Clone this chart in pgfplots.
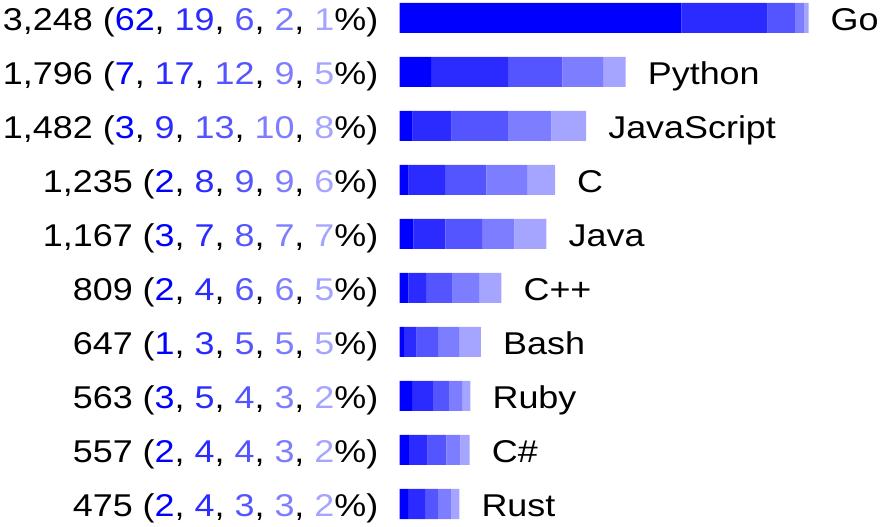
\documentclass[border=0pt]{standalone}
\usepackage{pgfplots}
\pgfplotsset{compat=1.18}
\usepackage{fontspec}
\setmainfont{Liberation Sans}[FakeStretch=1.14]
\definecolor{cA}{HTML}{0000FF}
\definecolor{cB}{HTML}{2B2BFF}
\definecolor{cC}{HTML}{5555FF}
\definecolor{cD}{HTML}{7D7DFF}
\definecolor{cE}{HTML}{A5A5FF}
\newcommand{\lab}[6]{#1 (\textcolor{cA}{#2}, \textcolor{cB}{#3}, \textcolor{cC}{#4}, \textcolor{cD}{#5}, \textcolor{cE}{#6}\%)}
\tikzset{lft/.style={anchor=base east, inner sep=0pt, xshift=-21bp, yshift=-12.2bp, font=\fontsize{31.5bp}{36bp}\selectfont},
         rgt/.style={anchor=base west, inner sep=0pt, xshift=22bp, yshift=-12.2bp, font=\fontsize{31.5bp}{36bp}\selectfont}}
\begin{document}
\begin{tikzpicture}
\begin{axis}[at={(399.5bp,23bp)}, anchor=south west, scale only axis,
  width=409bp, height=486bp, xmin=0, xmax=3248, ymin=0, ymax=9,
  hide axis, clip=false, xbar stacked, bar width=30bp]
\addplot[fill=cA, draw=none] coordinates {(2237.5,9) (251.4,8) (103.4,7) (72.6,6) (109.4,5) (70.3,4) (34.1,3) (99.4,2) (74.3,1) (67.9,0)};
\addplot[fill=cB, draw=none] coordinates {(685.7,9) (610.6,8) (310.2,7) (290.6,6) (255.3,5) (140.7,4) (102.2,3) (165.6,2) (148.5,1) (135.7,0)};
\addplot[fill=cC, draw=none] coordinates {(216.5,9) (431.0,8) (448.0,7) (326.9,6) (291.75,5) (211.0,4) (170.3,3) (132.5,2) (148.5,1) (101.8,0)};
\addplot[fill=cD, draw=none] coordinates {(72.2,9) (323.3,8) (344.7,7) (326.9,6) (255.3,5) (211.0,4) (170.3,3) (99.4,2) (111.4,1) (101.8,0)};
\addplot[fill=cE, draw=none] coordinates {(36.1,9) (179.6,8) (275.7,7) (217.9,6) (255.3,5) (175.9,4) (170.3,3) (66.2,2) (74.3,1) (67.9,0)};
\node[lft] at (axis cs:0,9) {\lab{3,248}{62}{19}{6}{2}{1}};
\node[lft] at (axis cs:0,8) {\lab{1,796}{7}{17}{12}{9}{5}};
\node[lft] at (axis cs:0,7) {\lab{1,482}{3}{9}{13}{10}{8}};
\node[lft] at (axis cs:0,6) {\lab{1,235}{2}{8}{9}{9}{6}};
\node[lft] at (axis cs:0,5) {\lab{1,167}{3}{7}{8}{7}{7}};
\node[lft] at (axis cs:0,4) {\lab{809}{2}{4}{6}{6}{5}};
\node[lft] at (axis cs:0,3) {\lab{647}{1}{3}{5}{5}{5}};
\node[lft] at (axis cs:0,2) {\lab{563}{3}{5}{4}{3}{2}};
\node[lft] at (axis cs:0,1) {\lab{557}{2}{4}{4}{3}{2}};
\node[lft] at (axis cs:0,0) {\lab{475}{2}{4}{3}{3}{2}};
\node[rgt] at (axis cs:3248,9) {Go};
\node[rgt] at (axis cs:1796,8) {Python};
\node[rgt] at (axis cs:1482,7) {JavaScript};
\node[rgt] at (axis cs:1235,6) {C};
\node[rgt] at (axis cs:1167,5) {Java};
\node[rgt] at (axis cs:809,4) {C++};
\node[rgt] at (axis cs:647,3) {Bash};
\node[rgt] at (axis cs:563,2) {Ruby};
\node[rgt] at (axis cs:557,1) {C\#};
\node[rgt] at (axis cs:475,0) {Rust};
\end{axis}
\pgfresetboundingbox
\useasboundingbox (0,0) rectangle (882bp,527bp);
\end{tikzpicture}
\end{document}
